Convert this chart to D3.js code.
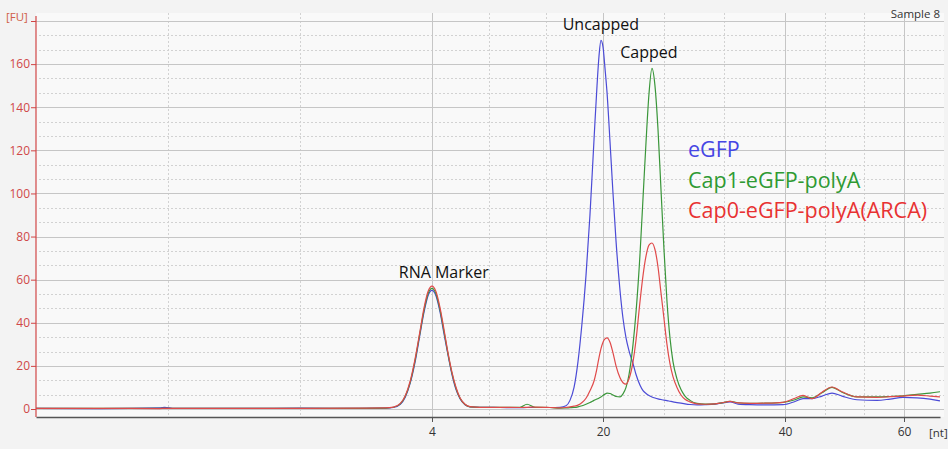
<!DOCTYPE html>
<html>
<head>
<meta charset="utf-8">
<script src="https://cdn.jsdelivr.net/npm/d3@7"></script>
<style>
  html, body { margin: 0; padding: 0; background: #f3f3f3; }
  svg { display: block; }
</style>
</head>
<body>
<svg id="chart" width="948" height="449"></svg>
<script>
// ---- data ----
const sizeNt = [0.0,0.65,1.25,1.30,1.40,2.16,2.67,3.27,3.53,3.61,3.68,3.73,3.78,3.83,3.88,3.92,3.96,4.00,
  4.37,4.75,5.12,5.50,5.87,6.25,6.62,7.09,7.56,8.49,10.36,12.23,12.89,13.64,15.04,15.98,16.54,16.91,17.29,
  17.66,18.04,18.41,18.78,19.16,19.44,19.63,19.81,20.00,20.22,20.44,20.77,21.10,21.43,21.87,22.20,22.53,
  22.86,23.30,23.63,24.07,24.40,24.73,25.05,25.38,25.71,26.04,26.37,26.70,27.03,27.36,27.69,28.13,28.57,
  29.01,29.56,30.33,31.21,32.31,33.08,33.96,34.84,36.15,37.80,39.78,41.68,43.03,44.54,46.22,47.90,49.58,
  52.10,55.46,57.65,59.83,62.18,64.37,66.05];

const eGFP = [0.3,0.2,0.5,0.8,0.3,0.3,0.4,0.3,0.4,0.7,2.2,5.5,12,22,35,45,52.5,55,
  52.5,45,35,25,16,9,4.8,2,1,0.8,0.7,0.6,0.7,0.7,0.7,0.8,1.5,4,10,
  22,40,62,90,125,150,164,171,168,158,147,124,100,78,55,42,33,
  27,21,16,11,8.5,7.2,6.3,5.6,5.1,4.7,4.4,4.1,3.9,3.6,3.3,3.0,2.7,
  2.4,2.1,1.9,2.0,2.3,2.8,3.3,2.3,2.0,1.9,2.0,3.5,4.8,4.8,6.0,7.4,6.0,
  4.3,4.0,4.6,5.4,5.2,4.6,3.8];

const cap1 = [0.3,0.3,0.3,0.3,0.3,0.3,0.3,0.3,0.4,0.8,2.4,5.9,12.5,22.8,35.8,46,53.5,56,
  53.5,46,36,25.5,16.5,9.5,5,2.1,1,0.8,0.8,0.8,2.2,0.8,0.7,0.4,0.5,0.6,0.7,
  1,1.5,2.2,3,4,4.6,5.1,5.6,6.3,6.9,7.4,7.2,6.5,5.8,5.6,7,10,
  16,30,45,72,98,124,146,158,150,130,102,74,50,33,22,14,9,
  6,4,2.6,2.3,2.4,2.8,3.6,2.9,2.6,2.7,3.1,4.3,5.6,5.2,7.5,10,7.8,
  5.6,5.6,5.8,6.1,6.8,7.4,8];

const cap0 = [0.3,0.3,0.2,0.3,0.3,0.3,0.3,0.4,0.5,0.9,2.6,6.2,13,23.5,36.5,47,54.5,57,
  54.5,47,37,26,17,10,5.2,2.2,1.1,0.8,0.8,0.7,0.8,0.9,0.7,0.5,0.7,1,1.3,
  1.8,3,5,8.5,13,19,24,28,31,32.5,33,31,26,20,14.5,12.2,11.5,
  14,22,32,50,62,71,76,77,74,66,54,42,30,21,15,10,6.5,
  4.5,3.3,2.4,2.2,2.4,2.9,3.5,2.8,2.6,2.7,3.1,5.0,6.3,4.8,7.8,10.2,8,
  5.6,5.4,5.7,6,6.4,6,5.6];

const seriesNames = ["eGFP", "Cap1-eGFP-polyA", "Cap0-eGFP-polyA(ARCA)"];
const seriesValues = [eGFP, cap1, cap0];
const xTickValues = [4, 20, 40, 60];
const yTickValues = [0, 20, 40, 60, 80, 100, 120, 140, 160];
const peakLabels = ["RNA Marker", "Uncapped", "Capped"];
const peakNt = [5.1, 19.8, 25.05];
const peakFU = [56, 171, 158];

// ---- layout ----
(function () {
const lineColors = ["#4b4bd6", "#3a963a", "#e04a4a"];
const legendColors = ["#4646e4", "#2f9a33", "#e83232"];
const svg = d3.select("#chart");
const left = 36, right = 940, plotTop = 13, zeroY = 409, axisY = 417;

const x = d3.scaleLinear()
  .domain([0, 4, 20, 40, 60, 66.05])
  .range([left, 432, 603, 785, 904, right]);
const y = d3.scaleLinear().domain([0, 180]).range([zeroY, 21]);

// plot background
svg.append("rect").attr("x", left).attr("y", plotTop)
  .attr("width", right - left + 4).attr("height", axisY - plotTop)
  .attr("fill", "#f9f9f9");

const grid = svg.append("g");
// minor horizontal (dotted) every 20/3
for (let i = 0; i < 9; i++) {
  for (let k = 1; k <= 2; k++) {
    const v = i * 20 + k * 20 / 3;
    grid.append("line").attr("x1", left + 3).attr("x2", right + 4)
      .attr("y1", Math.round(y(v)) + 0.5).attr("y2", Math.round(y(v)) + 0.5)
      .attr("stroke", "#d2d2d2").attr("stroke-dasharray", "2,2");
  }
}
// minor vertical (dotted) at thirds between ticks
const xSegs = [0, 4, 20, 40, 60];
for (let i = 0; i < xSegs.length - 1; i++) {
  for (let k = 1; k <= 2; k++) {
    const v = xSegs[i] + (xSegs[i + 1] - xSegs[i]) * k / 3;
    grid.append("line").attr("x1", Math.round(x(v)) + 0.5).attr("x2", Math.round(x(v)) + 0.5)
      .attr("y1", plotTop).attr("y2", axisY)
      .attr("stroke", "#d2d2d2").attr("stroke-dasharray", "2,2");
  }
}
// major horizontal
yTickValues.concat([180]).forEach(v => {
  grid.append("line").attr("x1", left).attr("x2", right + 4)
    .attr("y1", Math.round(y(v)) + 0.5).attr("y2", Math.round(y(v)) + 0.5)
    .attr("stroke", "#c6c6c6").attr("stroke-width", 1);
});
// major vertical
xTickValues.forEach(v => {
  grid.append("line").attr("x1", Math.round(x(v)) + 0.5).attr("x2", Math.round(x(v)) + 0.5)
    .attr("y1", plotTop).attr("y2", axisY)
    .attr("stroke", "#c6c6c6");
});

// series lines
const line = d3.line().x((d, i) => x(sizeNt[i])).y(d => y(d)).curve(d3.curveMonotoneX);
seriesValues.forEach((vals, s) => {
  svg.append("path").datum(vals)
    .attr("d", line)
    .attr("fill", "none")
    .attr("stroke", lineColors[s])
    .attr("stroke-width", 1.2)
    .attr("stroke-linejoin", "round");
});

// x axis
const xAxis = d3.axisBottom(x).tickValues(xTickValues).tickSize(5).tickSizeOuter(0).tickFormat(d3.format("d"));
const gx = svg.append("g").attr("transform", `translate(0,${axisY})`).call(xAxis);
gx.select(".domain").attr("stroke", "#555").attr("stroke-width", 1.3);
gx.selectAll(".tick line").attr("stroke", "#555");
gx.selectAll(".tick text").attr("fill", "#333").attr("font-family", "Open Sans").attr("font-size", 12).attr("dy", "0.9em");
svg.append("text").attr("x", 929).attr("y", 437).text("[nt]")
  .attr("fill", "#333").attr("font-family", "Open Sans").attr("font-size", 11.5);

// y axis
const yAxis = d3.axisLeft(y).tickValues(yTickValues.concat([180])).tickSize(5).tickSizeOuter(0)
  .tickFormat(d => d === 180 ? "" : d3.format("d")(d));
const gy = svg.append("g").attr("transform", `translate(${left},0)`).call(yAxis);
gy.select(".domain").attr("stroke", "#d04545").attr("stroke-width", 1.2)
  .attr("d", `M0,${plotTop + 3}V${axisY}`);
gy.selectAll(".tick line").attr("stroke", "#d04545");
gy.selectAll(".tick text").attr("fill", "#d04848").attr("font-family", "Open Sans").attr("font-size", 12).attr("x", -6);
svg.append("text").attr("x", 6).attr("y", 21).text("[FU]")
  .attr("fill", "#d06048").attr("font-family", "Open Sans").attr("font-size", 11.5);

// sample label
svg.append("text").attr("x", 940).attr("y", 18).attr("text-anchor", "end").text("Sample 8")
  .attr("fill", "#333").attr("font-family", "Open Sans").attr("font-size", 11.5);

// peak annotations
peakLabels.forEach((t, i) => {
  svg.append("text")
    .attr("x", x(peakNt[i]))
    .attr("y", y(peakFU[i]) - 10)
    .attr("text-anchor", "middle")
    .attr("fill", "#111")
    .attr("font-family", "Open Sans")
    .attr("font-size", 16)
    .text(t);
});

// legend
seriesNames.forEach((n, i) => {
  svg.append("text").attr("x", 688).attr("y", 157 + i * 30.5)
    .attr("fill", legendColors[i]).attr("font-family", "Open Sans").attr("font-size", 21.5)
    .text(n);
});
})();
</script>
</body>
</html>
